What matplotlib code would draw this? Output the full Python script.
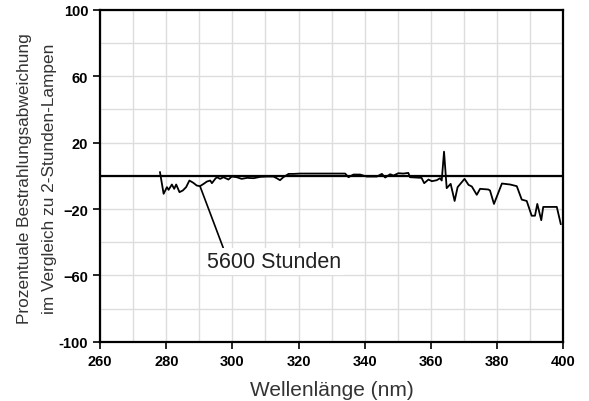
import matplotlib.pyplot as plt
import numpy as np

plt.rcParams['font.family'] = ['Liberation Sans', 'DejaVu Sans']

# Wellenlänge (nm) und prozentuale Abweichung nach 5600 Stunden
wellenlaenge = [278.1, 279.2, 280.2, 280.7, 281.7, 282.4, 283.0, 284.0, 285.0, 286.0,
                287.0, 288.2, 289.2, 290.2, 291.3, 292.3, 293.3, 293.8, 294.8, 295.3,
                296.3, 297.3, 298.8, 299.8, 301.3, 302.8, 304.4, 306.4, 308.4, 310.4,
                312.4, 313.4, 314.4, 315.4, 317.0, 318.5, 320.5, 324.5, 330.6, 334.1,
                335.1, 336.6, 338.6, 340.6, 343.7, 345.2, 346.2, 347.7, 348.7, 350.2,
                351.7, 353.2, 353.7, 357.2, 358.0, 359.3, 360.3, 361.8, 362.8, 363.3,
                364.0, 364.8, 366.0, 367.2, 368.1, 370.2, 371.4, 372.4, 373.9, 374.9,
                377.4, 377.9, 379.1, 381.5, 384.0, 386.0, 387.5, 389.0, 390.5, 391.5,
                392.2, 393.4, 394.0, 398.1, 399.3]
abweichung = [2.2, -10.8, -6.8, -8.4, -5.2, -7.8, -5.2, -9.8, -8.8, -6.8,
              -2.8, -4.2, -5.8, -6.2, -4.8, -3.4, -2.8, -4.4, -1.8, -0.8,
              -1.8, -0.8, -2.2, -0.4, -0.8, -1.8, -1.2, -1.4, -0.6, -0.4,
              -0.4, -1.4, -2.6, -0.8, 1.2, 1.2, 1.4, 1.4, 1.4, 1.4,
              -0.8, 0.8, 0.8, -0.4, -0.4, 1.2, -1.0, 1.0, 0.2, 1.6,
              1.4, 1.8, -0.8, -1.2, -4.4, -2.2, -3.2, -2.6, -1.4, -2.8,
              14.6, -7.4, -4.8, -15.1, -6.8, -1.8, -5.4, -6.4, -11.4, -7.8,
              -8.2, -8.8, -16.9, -4.6, -5.2, -6.2, -14.3, -15.1, -24.0, -24.0,
              -16.9, -26.7, -18.7, -18.7, -29.0]

x_ticks = [260, 280, 300, 320, 340, 360, 380, 400]
y_ticks = [-100, -60, -20, 20, 60, 100]
y_labels = ['-100', '\u221260', '\u221220', '20', '60', '100']

fig = plt.figure(figsize=(5.89, 4.02), dpi=100)
ax = fig.add_axes([0.170, 0.147, 0.786, 0.826])

ax.plot(wellenlaenge, abweichung, color='black', lw=1.3, zorder=3)
ax.axhline(0, color='black', lw=1.6, zorder=2)

ax.set_xlim(260, 400)
ax.set_ylim(-100, 100)
ax.set_xticks(x_ticks)
ax.set_xticks(np.arange(270, 400, 10), minor=True)
ax.set_yticks(y_ticks)
ax.set_yticks(np.arange(-80, 100, 20), minor=True)
ax.set_yticklabels(y_labels)
ax.grid(True, which='both', color='#dddddd', lw=1.0, zorder=0)
ax.set_axisbelow(True)
ax.tick_params(which='minor', length=0)
ax.tick_params(which='major', length=5, width=1.2, labelsize=10.5)
for lbl in ax.get_xticklabels() + ax.get_yticklabels():
    lbl.set_fontweight('bold')
for s in ax.spines.values():
    s.set_linewidth(1.6)

ax.set_xlabel('Wellenlänge (nm)', fontsize=15, color='#333333', labelpad=9)
ax.set_ylabel('Prozentuale Bestrahlungsabweichung\nim Vergleich zu 2-Stunden-Lampen',
              fontsize=12.4, color='#333333', linespacing=1.85)
ax.yaxis.set_label_coords(-0.093, 0.495)

ax.annotate('5600 Stunden', xy=(290.2, -6.2), xytext=(292.3, -51.5),
            fontsize=15.5, color='#222222', va='center', ha='left',
            bbox=dict(boxstyle='square,pad=0.15', fc='white', ec='none'),
            arrowprops=dict(arrowstyle='-', color='black', lw=1.2,
                            shrinkA=0, shrinkB=0, relpos=(0.13, 1.0)))

fig.savefig('out.png', dpi=100)
